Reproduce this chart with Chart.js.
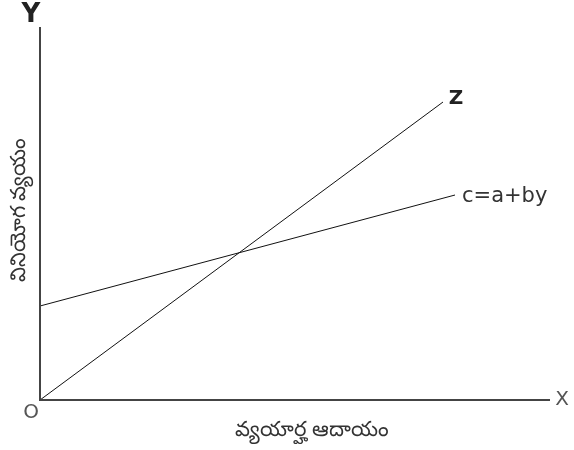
<!DOCTYPE html>
<html>
<head>
<meta charset="utf-8">
<script src="https://cdn.jsdelivr.net/npm/chart.js@4.4.0/dist/chart.umd.min.js"></script>
<style>
  html, body { margin: 0; padding: 0; background: #fff; }
  #wrap { width: 574px; height: 450px; }
</style>
</head>
<body>
<div id="wrap"><canvas id="myChart" width="574" height="450"></canvas></div>
<script>
// income (x) and spending (y) values
const lineZx = [0, 403];
const lineZy = [0, 298];
const consX = [0, 415];
const consY = [94, 205];
const xMax = 510;
const yMax = 373;

const yTitle = "వినియోగ వ్యయం";
const xTitle = "వ్యయార్హ ఆదాయం";

const toPoints = (xs, ys) => xs.map((x, i) => ({ x: x, y: ys[i] }));

const labelsPlugin = {
  id: "labels",
  afterDraw(chart) {
    const ctx = chart.ctx;
    const xs = chart.scales.x;
    const ys = chart.scales.y;
    const x0 = xs.getPixelForValue(0);
    const y0 = ys.getPixelForValue(0);
    ctx.save();
    // axes
    ctx.strokeStyle = "#444";
    ctx.lineWidth = 2;
    ctx.beginPath();
    ctx.moveTo(x0, ys.getPixelForValue(yMax));
    ctx.lineTo(x0, y0);
    ctx.lineTo(xs.getPixelForValue(xMax), y0);
    ctx.stroke();

    ctx.fillStyle = "#222";
    ctx.textBaseline = "middle";
    ctx.textAlign = "center";
    ctx.font = "bold 26px 'DejaVu Sans', sans-serif";
    ctx.fillText("Y", 31, 15);
    ctx.font = "bold 20px 'DejaVu Sans', sans-serif";
    const zEnd = chart.getDatasetMeta(0).data[1];
    ctx.fillText("Z", zEnd.x + 13, zEnd.y - 3);
    ctx.font = "20px 'DejaVu Sans', sans-serif";
    ctx.fillStyle = "#555";
    ctx.fillText("X", 562, y0);
    ctx.fillText("O", 31, 413);

    ctx.fillStyle = "#333";
    ctx.textAlign = "left";
    ctx.font = "21px 'DejaVu Sans', sans-serif";
    const cEnd = chart.getDatasetMeta(1).data[1];
    ctx.fillText("c=a+by", cEnd.x + 7, cEnd.y + 2);

    ctx.textAlign = "center";
    ctx.font = "21px 'Noto Sans', sans-serif";
    ctx.fillText(xTitle, 312, 430);
    ctx.translate(19, 210);
    ctx.rotate(-Math.PI / 2);
    ctx.fillText(yTitle, 0, 0);
    ctx.restore();
  },
};

let myChart = document.getElementById("myChart").getContext("2d");
let myGraph = new Chart(myChart, {
  type: "line",
  data: {
    datasets: [
      {
        label: "Z",
        data: toPoints(lineZx, lineZy),
        borderColor: "#111",
        borderWidth: 1,
        pointRadius: 0,
      },
      {
        label: "c=a+by",
        data: toPoints(consX, consY),
        borderColor: "#111",
        borderWidth: 1,
        pointRadius: 0,
      },
    ],
  },
  options: {
    responsive: false,
    animation: false,
    layout: { padding: { left: 40, top: 27, right: 24, bottom: 50 } },
    plugins: { legend: { display: false }, tooltip: { enabled: false } },
    scales: {
      x: { type: "linear", min: 0, max: xMax, display: false },
      y: { type: "linear", min: 0, max: yMax, display: false },
    },
  },
  plugins: [labelsPlugin],
});
</script>
</body>
</html>
